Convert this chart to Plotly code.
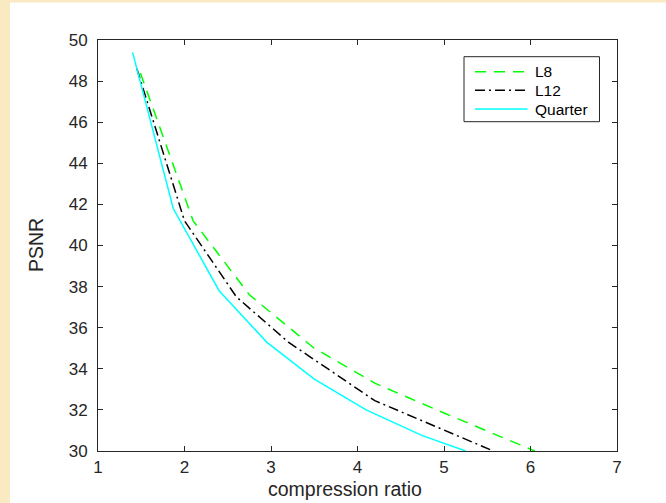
import plotly.graph_objects as go

# Data
l8_x = [1.49, 2.1, 2.75, 3.5, 4.2, 5.0, 6.05]
l8_y = [48.4, 41.2, 37.6, 35.0, 33.3, 31.85, 30.0]

l12_x = [1.45, 2.0, 2.6, 3.2, 4.2, 5.57]
l12_y = [48.6, 41.2, 37.5, 35.3, 32.45, 30.0]

quarter_x = [1.4, 1.87, 2.4, 2.95, 3.5, 4.1, 4.75, 5.25]
quarter_y = [49.4, 41.8, 37.8, 35.3, 33.5, 32.0, 30.75, 30.0]

series_names = ["L8", "L12", "Quarter"]
x_ticks = [1, 2, 3, 4, 5, 6, 7]
y_ticks = [30, 32, 34, 36, 38, 40, 42, 44, 46, 48, 50]
x_title = "compression ratio"
y_title = "PSNR"

AX = "#262626"
FONT = "Liberation Sans, Arial, Helvetica, sans-serif"
colors = ["#00ff00", "#000000", "#00ffff"]
dashes = ["11px,8px", "10px,4px,2px,4px", "solid"]

W, H = 666, 503
ML, MR, MT, MB = 98, 49, 40, 52
PW, PH = W - ML - MR, H - MT - MB


def px_x(p):
    return (p - ML) / PW


def px_y(p):
    return (H - MB - p) / PH


fig = go.Figure()
for xs, ys, name, c, d in zip([l8_x, l12_x, quarter_x], [l8_y, l12_y, quarter_y],
                              series_names, colors, dashes):
    fig.add_trace(go.Scatter(x=xs, y=ys, mode="lines", name=name, showlegend=False,
                             line=dict(color=c, width=1.5, dash=d)))

axis_common = dict(showline=True, linecolor=AX, linewidth=1, mirror="ticks",
                   ticks="inside", ticklen=5, tickcolor=AX, tickwidth=1,
                   showgrid=False, zeroline=False, automargin=False,
                   tickfont=dict(family=FONT, size=17, color=AX))

fig.update_xaxes(range=[1, 7], tickvals=x_ticks, ticklabelstandoff=1, **axis_common)
fig.update_yaxes(range=[30, 50], tickvals=y_ticks, ticklabelstandoff=6, **axis_common)

beige = "#f9eac1"
shapes = [
    dict(type="rect", xref="paper", yref="paper", x0=px_x(-20), x1=px_x(10),
         y0=px_y(H + 20), y1=px_y(-20), fillcolor=beige, line=dict(width=0), layer="below"),
    dict(type="rect", xref="paper", yref="paper", x0=px_x(-20), x1=px_x(W + 20),
         y0=px_y(2.6), y1=px_y(-20), fillcolor=beige, line=dict(width=0), layer="below"),
    # legend box
    dict(type="rect", xref="paper", yref="paper", x0=px_x(464), x1=px_x(599.5),
         y0=px_y(121.7), y1=px_y(56.7), fillcolor="white", line=dict(color=AX, width=1)),
]
annotations = [
    dict(xref="paper", yref="paper", x=px_x(345), y=px_y(489), xanchor="center",
         yanchor="middle", text=x_title, showarrow=False,
         font=dict(family=FONT, size=19.5, color=AX)),
    dict(xref="paper", yref="paper", x=px_x(36), y=px_y(245), xanchor="center",
         yanchor="middle", text=y_title, showarrow=False, textangle=-90,
         font=dict(family=FONT, size=19.5, color=AX)),
]
row_y = [71.7, 90.3, 109.0]
for name, c, d, ry in zip(series_names, colors, dashes, row_y):
    shapes.append(dict(type="line", xref="paper", yref="paper",
                       x0=px_x(475), x1=px_x(527.5), y0=px_y(ry), y1=px_y(ry),
                       line=dict(color=c, width=1.5, dash=d)))
    annotations.append(dict(xref="paper", yref="paper", x=px_x(533), y=px_y(ry),
                            xanchor="left", yanchor="middle", text=name, showarrow=False,
                            font=dict(family=FONT, size=15.5, color="#000000")))

fig.update_layout(
    width=W, height=H,
    margin=dict(l=ML, r=MR, t=MT, b=MB),
    paper_bgcolor="white", plot_bgcolor="white",
    font=dict(family=FONT, color=AX),
    showlegend=False,
    shapes=shapes,
    annotations=annotations,
)

fig.write_html("out.html", config={"displayModeBar": False},
               post_script="document.body.style.margin='0';")
